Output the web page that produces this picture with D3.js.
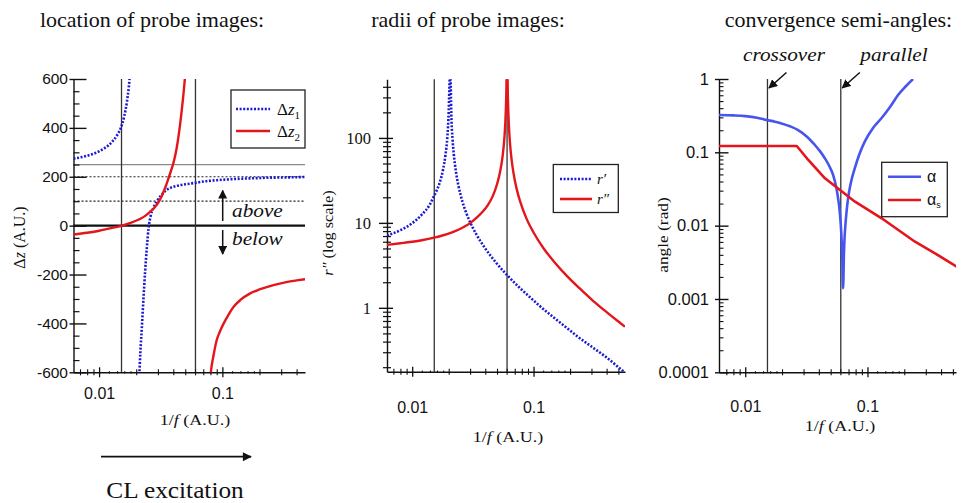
<!DOCTYPE html>
<html>
<head>
<meta charset="utf-8">
<script src="https://cdn.jsdelivr.net/npm/d3@7"></script>
<style>
  body { margin: 0; background: #fff; }
  svg { display: block; }
</style>
</head>
<body>
<script>
// ---------- data ----------
// shared markers on the 1/f axis
const crossoverF = 0.0152;
const parallelF = 0.0605;

// location of probe images: Δz1 (two branches) and Δz2 (two branches)
const dz1AX = [0.0062, 0.007, 0.008, 0.009, 0.010, 0.011, 0.012, 0.013, 0.014, 0.015, 0.016, 0.0168, 0.0174, 0.0178];
const dz1AY = [274, 279, 286, 294, 304, 316, 330, 348, 370, 400, 448, 505, 565, 620];
const dz1BX = [0.0211, 0.0216, 0.0222, 0.0229, 0.0236, 0.0244, 0.0252, 0.0262, 0.0275, 0.0293, 0.0320, 0.0353, 0.040, 0.046, 0.0514, 0.060, 0.074, 0.090, 0.11, 0.14, 0.18, 0.23, 0.30, 0.38, 0.468];
const dz1BY = [-640, -520, -420, -300, -190, -90, -10, 40, 72, 98, 125, 146, 159, 166, 170, 175, 182, 186, 189, 192, 194, 196, 197, 198, 199];
const dz2AX = [0.0062, 0.008, 0.010, 0.012, 0.0154, 0.018, 0.021, 0.0235, 0.0258, 0.028, 0.0307, 0.0338, 0.0369, 0.0408, 0.0426, 0.0453, 0.0476, 0.0498, 0.0512];
const dz2AY = [-36, -29, -21, -12, 0, 11, 25, 39, 56, 72, 100, 146, 200, 272, 318, 410, 505, 610, 690];
const dz2BX = [0.0790, 0.0806, 0.085, 0.090, 0.095, 0.102, 0.112, 0.123, 0.14, 0.168, 0.20, 0.26, 0.33, 0.40, 0.468];
const dz2BY = [-650, -600, -528, -468, -436, -402, -365, -333, -304, -277, -261, -243, -231, -224, -219];
const dzMajorTicks = [-600, -400, -200, 0, 200, 400, 600];
const dzRefLevels = { solid: 250, dotted: [200, 100], zero: 0 };

// radii of probe images: r' and r'' (each split at its peak)
const r1AX = [0.0062, 0.008, 0.010, 0.012, 0.014, 0.0152, 0.016, 0.017, 0.018, 0.0188, 0.0195, 0.0200, 0.0204];
const r1AY = [7.1, 8.2, 9.9, 12.5, 16.5, 21, 24.5, 31, 43, 63, 105, 210, 600];
const r1BX = [0.0206, 0.0210, 0.0215, 0.022, 0.023, 0.024, 0.026, 0.028, 0.0302, 0.034, 0.040, 0.050, 0.0605, 0.075, 0.090, 0.11, 0.14, 0.18, 0.23, 0.30, 0.40, 0.50, 0.567];
const r1BY = [900, 194, 97, 65, 39, 27.7, 17.6, 12.9, 10.0, 7.2, 5.0, 3.3, 2.43, 1.78, 1.40, 1.08, 0.81, 0.61, 0.46, 0.35, 0.26, 0.20, 0.172];
const r2AX = [0.0062, 0.008, 0.010, 0.012, 0.0152, 0.018, 0.021, 0.024, 0.027, 0.0302, 0.034, 0.038, 0.042, 0.046, 0.050, 0.053, 0.0555, 0.0575, 0.059, 0.0598, 0.0603];
const r2AY = [5.5, 5.75, 6.0, 6.25, 6.7, 7.15, 7.7, 8.3, 9.05, 10.0, 11.5, 13.5, 16.2, 20.5, 28.5, 40, 60, 100, 200, 430, 1500];
const r2BX = [0.0607, 0.0612, 0.062, 0.0635, 0.065, 0.067, 0.070, 0.073, 0.078, 0.088, 0.10, 0.12, 0.15, 0.188, 0.24, 0.311, 0.40, 0.50, 0.567];
const r2BY = [1500, 430, 200, 100, 67, 46.5, 32, 24.3, 17.4, 11.0, 7.7, 5.1, 3.4, 2.38, 1.69, 1.2, 0.89, 0.69, 0.6];
const rMajorTicks = [1, 10, 100];

// convergence semi-angles: α and αs
const alphaX = [0.0061, 0.008, 0.010, 0.0125, 0.0146, 0.0175, 0.0198, 0.0235, 0.0271, 0.032, 0.0371, 0.041, 0.0448, 0.0487, 0.0524, 0.0552, 0.0575, 0.0592, 0.0605, 0.0615, 0.0622, 0.0632, 0.0642, 0.0650, 0.066, 0.0675, 0.0694, 0.073, 0.0787, 0.086, 0.095, 0.11, 0.13, 0.155, 0.178, 0.205, 0.236];
const alphaY = [0.323, 0.319, 0.312, 0.296, 0.278, 0.262, 0.248, 0.225, 0.201, 0.163, 0.126, 0.103, 0.083, 0.065, 0.049, 0.035, 0.0236, 0.016, 0.0102, 0.0062, 0.0039, 0.0014, 0.0042, 0.0070, 0.0102, 0.0158, 0.0236, 0.038, 0.0605, 0.095, 0.14, 0.21, 0.291, 0.43, 0.605, 0.79, 1.0];
const alphaSX = [0.0061, 0.0264, 0.0328, 0.0449, 0.0596, 0.0791, 0.1307, 0.2448, 0.357, 0.537];
const alphaSY = [0.122, 0.122, 0.0786, 0.0442, 0.0306, 0.0212, 0.0126, 0.00604, 0.0042, 0.00276];
const angleMajorTicks = [0.0001, 0.001, 0.01, 0.1, 1];

const fMajorTicks = [0.01, 0.1];
const titles = ["location of probe images:", "radii of probe images:", "convergence semi-angles:"];

// ---------- style ----------
const SERIF = "'Liberation Serif','Times New Roman',serif";
const SANS = "'Liberation Sans',Arial,sans-serif";
const BLUE_DOT = "#1a1ad2";
const BLUE = "#4655ee";
const RED = "#e4161c";
const INK = "#111";

const W = 962, H = 503;
const svg = d3.select("body").append("svg").attr("width", W).attr("height", H);
const defs = svg.append("defs");
defs.append("marker").attr("id", "head").attr("viewBox", "0 0 10 10")
  .attr("refX", 9).attr("refY", 5).attr("markerWidth", 9).attr("markerHeight", 9)
  .attr("markerUnits", "userSpaceOnUse").attr("orient", "auto")
  .append("path").attr("d", "M0,0L10,5L0,10z").attr("fill", INK);
defs.append("marker").attr("id", "headBig").attr("viewBox", "0 0 10 10")
  .attr("refX", 9).attr("refY", 5).attr("markerWidth", 11).attr("markerHeight", 9)
  .attr("markerUnits", "userSpaceOnUse").attr("orient", "auto")
  .append("path").attr("d", "M0,0L10,5L0,10z").attr("fill", INK);

const zip = (xs, ys) => xs.map((v, i) => [v, ys[i]]);

// text placed at (x, y) and stretched horizontally by sx
function label(x, y, size, opts = {}) {
  const g = svg.append("g").attr("transform",
    `translate(${x},${y})` + (opts.rotate ? ` rotate(${opts.rotate})` : "") + ` scale(${opts.sx || 1},1)`);
  return g.append("text").attr("x", 0).attr("y", 0)
    .attr("text-anchor", opts.anchor || "middle")
    .attr("font-family", opts.family || SERIF).attr("font-size", size)
    .attr("font-style", opts.italic ? "italic" : null).attr("fill", INK);
}

// ---------- panels ----------
const panels = [
  { x: d3.scaleLog().domain([0.0062, 0.468]).range([73.5, 305]),
    y: d3.scaleLinear().domain([-600, 600]).range([372.3, 79]), tickFont: SANS, titleX: 152 },
  { x: d3.scaleLog().domain([0.0062, 0.567]).range([387, 625]),
    y: d3.scaleLog().domain([0.177, 490]).range([371.7, 79.3]), tickFont: SANS, titleX: 468 },
  { x: d3.scaleLog().domain([0.0061, 0.53]).range([719, 956]),
    y: d3.scaleLog().domain([0.0001, 1]).range([372.3, 79]), tickFont: SANS, titleX: 838.5 }
];

panels.forEach((p, i) => {
  const [x0, x1] = p.x.range();
  const [yb, yt] = p.y.range();
  p.clip = "clip" + i;
  defs.append("clipPath").attr("id", p.clip).append("rect")
    .attr("x", x0).attr("y", yt).attr("width", x1 - x0).attr("height", yb - yt);
  label(p.titleX, 27, 22).text(titles[i]);
});

// minor tick values of a log axis inside a domain
function logMinors(domain, mults) {
  const out = [];
  const lo = Math.floor(Math.log10(domain[0])), hi = Math.ceil(Math.log10(domain[1]));
  for (let e = lo; e <= hi; e++) mults.forEach(m => {
    const v = m * Math.pow(10, e);
    if (v >= domain[0] * 0.999 && v <= domain[1] * 1.001) out.push(v);
  });
  return out;
}

// bottom 1/f axis with crossing tick marks
function fAxis(p, labelY, titleX, titleY) {
  const yb = p.y.range()[0];
  const g = svg.append("g").attr("transform", `translate(0,${yb})`);
  g.append("g").call(d3.axisBottom(p.x).tickValues(logMinors(p.x.domain(), [1.2, 1.4, 1.6, 1.8])).tickFormat("").tickSizeOuter(0))
    .call(a => { a.select(".domain").remove(); a.selectAll(".tick line").attr("y1", -1.2).attr("y2", 1.2).attr("stroke", INK); });
  g.append("g").call(d3.axisBottom(p.x).tickValues(logMinors(p.x.domain(), [2, 3, 4, 5, 6, 7, 8, 9])).tickFormat("").tickSizeOuter(0))
    .call(a => { a.select(".domain").remove(); a.selectAll(".tick line").attr("y1", -3).attr("y2", 3).attr("stroke", INK).attr("stroke-width", 1.1); });
  g.append("g").call(d3.axisBottom(p.x).tickValues(fMajorTicks).tickFormat(d => String(d)).tickSizeOuter(0))
    .call(a => {
      a.select(".domain").attr("stroke", INK).attr("stroke-width", 1.4);
      a.selectAll(".tick line").attr("y1", -5).attr("y2", 5).attr("stroke", INK).attr("stroke-width", 1.3);
      a.selectAll(".tick text").attr("y", labelY).attr("dy", null)
        .attr("font-family", p.tickFont).attr("font-size", 16).attr("fill", INK);
    });
  const t = label(titleX, titleY, 15, { sx: 1.2 });
  t.append("tspan").text("1/");
  t.append("tspan").attr("font-style", "italic").text("f");
  t.append("tspan").text(" (A.U.)");
}

function vLines(p) {
  [crossoverF, parallelF].forEach(f => {
    svg.append("line").attr("x1", p.x(f)).attr("x2", p.x(f))
      .attr("y1", p.y.range()[1]).attr("y2", p.y.range()[0])
      .attr("stroke", "#333").attr("stroke-width", 1.3);
  });
}

function curve(p, xs, ys, color, dotted, width, kind) {
  const line = d3.line().x(d => p.x(d[0])).y(d => p.y(d[1]))
    .curve(kind || d3.curveMonotoneX);
  svg.append("path").attr("clip-path", `url(#${p.clip})`)
    .attr("d", line(zip(xs, ys))).attr("fill", "none").attr("stroke", color)
    .attr("stroke-width", width).attr("stroke-dasharray", dotted ? "2,1.6" : null)
    .attr("stroke-linejoin", "round");
}

// ---------- panel 1: location ----------
{
  const p = panels[0];
  const [x0, x1] = p.x.range();
  svg.append("line").attr("x1", x0).attr("x2", x1).attr("y1", p.y(dzRefLevels.solid)).attr("y2", p.y(dzRefLevels.solid))
    .attr("stroke", "#8a8a8a").attr("stroke-width", 1.2);
  dzRefLevels.dotted.forEach(v => svg.append("line").attr("x1", x0).attr("x2", x1)
    .attr("y1", p.y(v)).attr("y2", p.y(v)).attr("stroke", "#222").attr("stroke-width", 1.2).attr("stroke-dasharray", "2,2"));
  svg.append("line").attr("x1", x0).attr("x2", x1).attr("y1", p.y(dzRefLevels.zero)).attr("y2", p.y(dzRefLevels.zero))
    .attr("stroke", INK).attr("stroke-width", 2.2);
  vLines(p);

  // y axis: major ticks inside with a small outside stub, minor every 50
  const ga = svg.append("g").attr("transform", `translate(${x0},0)`);
  ga.append("g").call(d3.axisRight(p.y).tickValues(d3.range(-600, 601, 50).filter(v => v % 200 !== 0)).tickFormat("").tickSizeOuter(0).tickSize(6))
    .call(a => { a.select(".domain").remove(); a.selectAll(".tick line").attr("stroke", INK).attr("stroke-width", 1.2); });
  ga.append("g").call(d3.axisLeft(p.y).tickValues(dzMajorTicks).tickSizeOuter(0).tickFormat(d => d))
    .call(a => {
      a.select(".domain").attr("stroke", INK).attr("stroke-width", 1.4);
      a.selectAll(".tick line").attr("x1", -4).attr("x2", 13).attr("stroke", INK).attr("stroke-width", 1.4);
      a.selectAll(".tick text").attr("x", -5.5).attr("font-family", SANS).attr("font-size", 15.5).attr("fill", INK);
    });
  fAxis(p, 27, 195, 425);

  curve(p, dz1AX, dz1AY, BLUE_DOT, true, 2.6);
  curve(p, dz1BX, dz1BY, BLUE_DOT, true, 2.6);
  curve(p, dz2AX, dz2AY, RED, false, 2.4);
  curve(p, dz2BX, dz2BY, RED, false, 2.4);

  const yl = label(25, 237.5, 16, { rotate: -90 });
  yl.append("tspan").text("Δ");
  yl.append("tspan").attr("font-style", "italic").text("z");
  yl.append("tspan").text(" (A.U.)");

  // above / below markers
  const ax = 222.7;
  svg.append("line").attr("x1", ax).attr("x2", ax).attr("y1", 221).attr("y2", 190.5)
    .attr("stroke", INK).attr("stroke-width", 1.5).attr("marker-end", "url(#head)");
  svg.append("line").attr("x1", ax).attr("x2", ax).attr("y1", 230).attr("y2", 254)
    .attr("stroke", INK).attr("stroke-width", 1.5).attr("marker-end", "url(#head)");
  label(232, 217, 19, { anchor: "start", italic: true, sx: 1.12 }).text("above");
  label(232, 245, 19, { anchor: "start", italic: true, sx: 1.12 }).text("below");

  // legend
  const lg = svg.append("g");
  lg.append("rect").attr("x", 231).attr("y", 90).attr("width", 74).attr("height", 58)
    .attr("fill", "#fff").attr("stroke", "#222").attr("stroke-width", 1.3);
  [[BLUE_DOT, true, 109, "1"], [RED, false, 131, "2"]].forEach(([c, dot, yy, sub]) => {
    lg.append("line").attr("x1", 236).attr("x2", 270).attr("y1", yy).attr("y2", yy)
      .attr("stroke", c).attr("stroke-width", 2.6).attr("stroke-dasharray", dot ? "2,1.6" : null);
    const t = lg.append("text").attr("x", 277).attr("y", yy + 5.5).attr("font-family", SERIF)
      .attr("font-size", 17).attr("fill", INK);
    t.append("tspan").text("Δ");
    t.append("tspan").attr("font-style", "italic").text("z");
    t.append("tspan").attr("font-size", 11).attr("dy", 4).text(sub);
  });

  // excitation direction
  svg.append("line").attr("x1", 101).attr("x2", 251).attr("y1", 456.7).attr("y2", 456.7)
    .attr("stroke", INK).attr("stroke-width", 1.8).attr("marker-end", "url(#headBig)");
  label(175, 498, 23, { sx: 1.1 }).text("CL excitation");
}

// ---------- panel 2: radii ----------
{
  const p = panels[1];
  const [x0] = p.x.range();
  vLines(p);
  const ga = svg.append("g").attr("transform", `translate(${x0},0)`);
  ga.append("g").call(d3.axisLeft(p.y).tickValues(logMinors(p.y.domain(), [2, 3, 4, 5, 6, 7, 8, 9])).tickFormat("").tickSizeOuter(0))
    .call(a => { a.select(".domain").remove(); a.selectAll(".tick line").attr("x1", -4).attr("x2", 4).attr("stroke", INK).attr("stroke-width", 1.2); });
  ga.append("g").call(d3.axisLeft(p.y).tickValues(rMajorTicks).tickFormat(d => d).tickSizeOuter(0))
    .call(a => {
      a.select(".domain").attr("stroke", INK).attr("stroke-width", 1.4);
      a.selectAll(".tick line").attr("x1", -8).attr("x2", 6).attr("stroke", INK).attr("stroke-width", 1.4);
      a.selectAll(".tick text").attr("x", -16).attr("font-family", SERIF).attr("font-size", 16.5).attr("fill", INK);
    });
  fAxis(p, 41, 508, 442);

  curve(p, r1AX, r1AY, BLUE_DOT, true, 2.6);
  curve(p, r1BX, r1BY, BLUE_DOT, true, 2.6);
  curve(p, r2AX, r2AY, RED, false, 2.4);
  curve(p, r2BX, r2BY, RED, false, 2.4);

  const yl = label(333, 233, 15.5, { rotate: -90, sx: 1.05 });
  yl.append("tspan").attr("font-style", "italic").text("r″");
  yl.append("tspan").text(" (log scale)");

  const lg = svg.append("g");
  lg.append("rect").attr("x", 553.3).attr("y", 164.5).attr("width", 65).attr("height", 48)
    .attr("fill", "#fff").attr("stroke", "#222").attr("stroke-width", 1.3);
  [[BLUE_DOT, true, 179, "r′"], [RED, false, 199, "r″"]].forEach(([c, dot, yy, s]) => {
    lg.append("line").attr("x1", 560).attr("x2", 592).attr("y1", yy).attr("y2", yy)
      .attr("stroke", c).attr("stroke-width", 2.6).attr("stroke-dasharray", dot ? "2,1.6" : null);
    lg.append("text").attr("x", 597).attr("y", yy + 5).attr("font-family", SERIF).attr("font-style", "italic")
      .attr("font-size", 15).attr("fill", INK).text(s);
  });
}

// ---------- panel 3: angles ----------
{
  const p = panels[2];
  const [x0] = p.x.range();
  vLines(p);
  const ga = svg.append("g").attr("transform", `translate(${x0},0)`);
  ga.append("g").call(d3.axisRight(p.y).tickValues(logMinors(p.y.domain(), [2, 3, 4, 5, 6, 7, 8, 9])).tickFormat("").tickSizeOuter(0).tickSize(4.5))
    .call(a => { a.select(".domain").remove(); a.selectAll(".tick line").attr("stroke", INK).attr("stroke-width", 1.1); });
  ga.append("g").call(d3.axisLeft(p.y).tickValues(angleMajorTicks).tickFormat(d => String(d)).tickSizeOuter(0))
    .call(a => {
      a.select(".domain").attr("stroke", INK).attr("stroke-width", 1.4);
      a.selectAll(".tick line").attr("x1", -4).attr("x2", 9.5).attr("stroke", INK).attr("stroke-width", 1.4);
      a.selectAll(".tick text").attr("x", -10).attr("font-family", SANS).attr("font-size", 16.5).attr("fill", INK);
    });
  fAxis(p, 39.5, 840, 431);

  curve(p, alphaX, alphaY, BLUE, false, 2.6);
  curve(p, alphaSX, alphaSY, RED, false, 2.6, d3.curveLinear);

  label(668, 235, 15.5, { rotate: -90, sx: 1.12 }).text("angle (rad)");

  // crossover / parallel call-outs
  [["crossover", 784, crossoverF], ["parallel", 894, parallelF]].forEach(([s, cx, f]) => {
    label(cx, 61, 19, { italic: true, sx: 1.12 }).text(s);
    const lx = p.x(f);
    svg.append("line").attr("x1", lx + 19).attr("y1", 72.5).attr("x2", lx + 1.5).attr("y2", 88)
      .attr("stroke", INK).attr("stroke-width", 1.5).attr("marker-end", "url(#head)");
  });

  const lg = svg.append("g");
  lg.append("rect").attr("x", 881.7).attr("y", 162.3).attr("width", 65.6).attr("height", 54.4)
    .attr("fill", "#fff").attr("stroke", "#222").attr("stroke-width", 1.3);
  [[BLUE, 176.7, null], [RED, 200, "s"]].forEach(([c, yy, sub]) => {
    lg.append("line").attr("x1", 888).attr("x2", 921).attr("y1", yy).attr("y2", yy)
      .attr("stroke", c).attr("stroke-width", 2.6);
    const t = lg.append("text").attr("x", 927).attr("y", yy + 5).attr("font-family", SANS)
      .attr("font-size", 16).attr("fill", INK);
    t.append("tspan").text("α");
    if (sub) t.append("tspan").attr("font-size", 9).attr("dy", 3).text(sub);
  });
}
</script>
</body>
</html>
